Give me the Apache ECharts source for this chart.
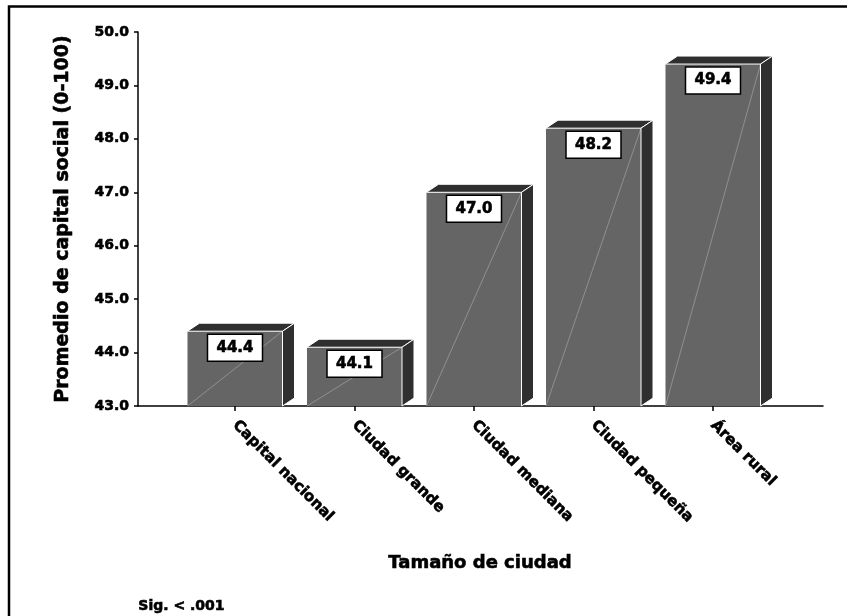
<!DOCTYPE html>
<html>
<head>
<meta charset="utf-8">
<style>
  html, body { margin: 0; padding: 0; background: #fff; }
  #chart { width: 847px; height: 616px; }
</style>
<script src="https://cdn.jsdelivr.net/npm/echarts@6/dist/echarts.min.js"></script>
</head>
<body>
<div id="chart"></div>
<script>
const categories = ['Capital nacional', 'Ciudad grande', 'Ciudad mediana', 'Ciudad pequeña', 'Área rural']
const values = [44.4, 44.1, 47.0, 48.2, 49.4]
const yMin = 43
const yMax = 50

const FONT = 'DejaVu Sans'
// a thin outline in the text colour makes the bold face look heavier, closer to the original
const heavy = { textBorderColor: '#000', textBorderWidth: 0.6 }
// same idea for raw zrender text (graphic / custom elements)
const heavyRaw = { stroke: '#000', lineWidth: 0.6 }

// 3D-ish bar: front face, top face, side face and the boxed value label
function renderBar(params, api) {
  const top = api.coord([api.value(0), api.value(1)])
  const base = api.coord([api.value(0), yMin])
  const band = api.size([1, 0])[0]
  const w = band * 0.795
  const x0 = top[0] - w / 2
  const x1 = top[0] + w / 2
  const yt = top[1]
  const yb = base[1]
  const dx = 12
  const dy = 8

  return {
    type: 'group',
    children: [
      {
        type: 'rect',
        shape: { x: x0, y: yt, width: w, height: yb - yt },
        style: { fill: '#656565' }
      },
      {
        type: 'line',
        shape: { x1: x0, y1: yb, x2: x1, y2: yt },
        style: { stroke: '#9a9a9a', lineWidth: 0.8 }
      },
      {
        type: 'polygon',
        shape: { points: [[x0, yt], [x0 + dx, yt - dy], [x1 + dx, yt - dy], [x1, yt]] },
        style: { fill: '#2f2f2f', stroke: '#ffffff', lineWidth: 1 }
      },
      {
        type: 'polygon',
        shape: { points: [[x1, yt], [x1 + dx, yt - dy], [x1 + dx, yb - dy], [x1, yb]] },
        style: { fill: '#2f2f2f', stroke: '#ffffff', lineWidth: 1 }
      },
      {
        type: 'rect',
        shape: { x: top[0] - 27.5, y: yt + 3, width: 55, height: 27 },
        style: { fill: '#fff', stroke: '#000', lineWidth: 1.5 }
      },
      {
        type: 'text',
        style: {
          x: top[0],
          y: yt + 16.5,
          text: api.value(1).toFixed(1),
          font: 'bold 15px "' + FONT + '"',
          fill: '#000',
          align: 'center',
          verticalAlign: 'middle',
          ...heavyRaw
        }
      }
    ]
  }
}

const chart = echarts.init(document.getElementById('chart'))

chart.setOption({
  animation: false,
  backgroundColor: '#fff',
  textStyle: { fontFamily: FONT },
  grid: [
    { left: 138, top: 32, right: 24, bottom: 210 },
    { left: 175.25, top: 32, width: 597.5, bottom: 210 }
  ],
  xAxis: [
    {
      gridIndex: 0,
      type: 'value',
      min: 0,
      max: 1,
      axisLine: { show: true, lineStyle: { color: '#000', width: 1.5 } },
      axisTick: { show: false },
      axisLabel: { show: false },
      splitLine: { show: false }
    },
    {
      gridIndex: 1,
      type: 'category',
      data: categories,
      axisLine: { show: false },
      axisTick: { show: true, alignWithLabel: true, length: 5, lineStyle: { color: '#000', width: 1.5 } },
      axisLabel: {
        rotate: -45,
        margin: 17,
        color: '#000',
        fontFamily: FONT,
        fontWeight: 'bold',
        fontSize: 15,
        ...heavy
      },
      splitLine: { show: false }
    }
  ],
  yAxis: [
    {
      gridIndex: 0,
      type: 'value',
      min: yMin,
      max: yMax,
      interval: 1,
      name: 'Promedio de capital social (0-100)',
      nameLocation: 'middle',
      nameRotate: 90,
      nameGap: 65,
      nameTextStyle: { color: '#000', fontFamily: FONT, fontWeight: 'bold', fontSize: 19, ...heavy },
      axisLine: { show: true, lineStyle: { color: '#000', width: 1.5 } },
      axisTick: { show: true, length: 4, lineStyle: { color: '#000', width: 1.5 } },
      axisLabel: {
        margin: 9,
        color: '#000',
        fontFamily: FONT,
        fontWeight: 'bold',
        fontSize: 14,
        formatter: v => v.toFixed(1),
        ...heavy
      },
      splitLine: { show: false }
    },
    {
      gridIndex: 1,
      type: 'value',
      min: yMin,
      max: yMax,
      interval: 1,
      show: false
    }
  ],
  graphic: [
    {
      type: 'rect',
      shape: { x: 9, y: 6.5, width: 880, height: 660 },
      style: { fill: 'none', stroke: '#000', lineWidth: 2.5 }
    },
    {
      type: 'text',
      left: 388,
      top: 554,
      style: {
        text: 'Tamaño de ciudad',
        font: 'bold 18px "' + FONT + '"',
        fill: '#000',
        ...heavyRaw
      }
    },
    {
      type: 'text',
      left: 138,
      top: 599,
      style: {
        text: 'Sig. < .001',
        font: 'bold 14px "' + FONT + '"',
        fill: '#000',
        ...heavyRaw
      }
    }
  ],
  series: [
    {
      type: 'custom',
      xAxisIndex: 1,
      yAxisIndex: 1,
      renderItem: renderBar,
      encode: { x: 0, y: 1 },
      data: values.map((v, i) => [i, v])
    }
  ]
})
</script>
</body>
</html>
